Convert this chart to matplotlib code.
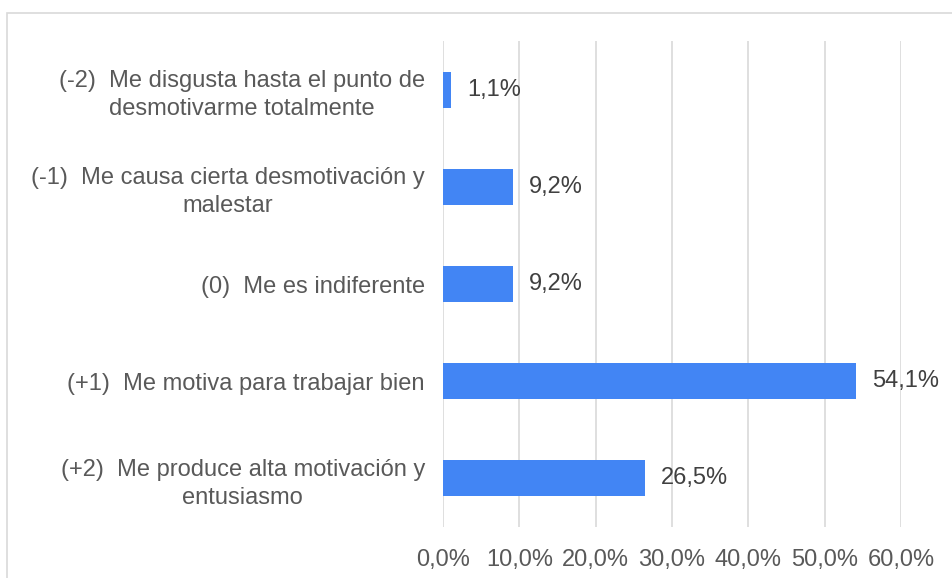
import matplotlib.pyplot as plt
from matplotlib.patches import Rectangle

# data
categories = [
    '(-2)  Me disgusta hasta el punto de\ndesmotivarme totalmente',
    '(-1)  Me causa cierta desmotivación y\nmalestar',
    '(0)  Me es indiferente',
    '(+1)  Me motiva para trabajar bien',
    '(+2)  Me produce alta motivación y\nentusiasmo',
]
values = [1.1, 9.2, 9.2, 54.1, 26.5]
xticks = [0, 10, 20, 30, 40, 50, 60]

plt.rcParams['font.family'] = ['Liberation Sans', 'DejaVu Sans']
text_color = '#595959'
bar_color = '#4285f4'
grid_color = '#d9d9d9'
fs = 17

fig = plt.figure(figsize=(9.53, 5.78), dpi=100)
ax = fig.add_axes([443 / 953, 1 - 527 / 578, (901 - 443) / 953, (527 - 41) / 578])

# chart border (cut off at right and bottom)
fig.patches.append(Rectangle((7 / 953, -0.1), 1.2, 1 - 13 / 578 + 0.1,
                             transform=fig.transFigure, fill=False,
                             edgecolor=grid_color, linewidth=1.2))

pos = list(range(len(categories)))
ax.barh(pos, values, height=0.37, color=bar_color, zorder=3)
for p, v in zip(pos, values):
    ax.text(v + 2.1, p, f'{v:.1f}%'.replace('.', ','), va='center', ha='left',
            fontsize=fs, color='#404040')

ax.set_xlim(0, 60)
ax.set_ylim(len(categories) - 0.5, -0.5)
ax.set_xticks(xticks)
ax.set_xticklabels([f'{t:.1f}%'.replace('.', ',') for t in xticks])
ax.set_yticks(pos)
ax.set_yticklabels(categories)
for lbl in ax.get_yticklabels():
    lbl.set_multialignment('center')
    lbl.set_linespacing(1.35)
ax.tick_params(axis='both', length=0, labelsize=fs, labelcolor=text_color)
ax.tick_params(axis='x', pad=16)
ax.tick_params(axis='y', pad=13)
ax.grid(axis='x', color=grid_color, linewidth=1.2, zorder=0)
for s in ax.spines.values():
    s.set_visible(False)

fig.savefig('out.png', dpi=100)
